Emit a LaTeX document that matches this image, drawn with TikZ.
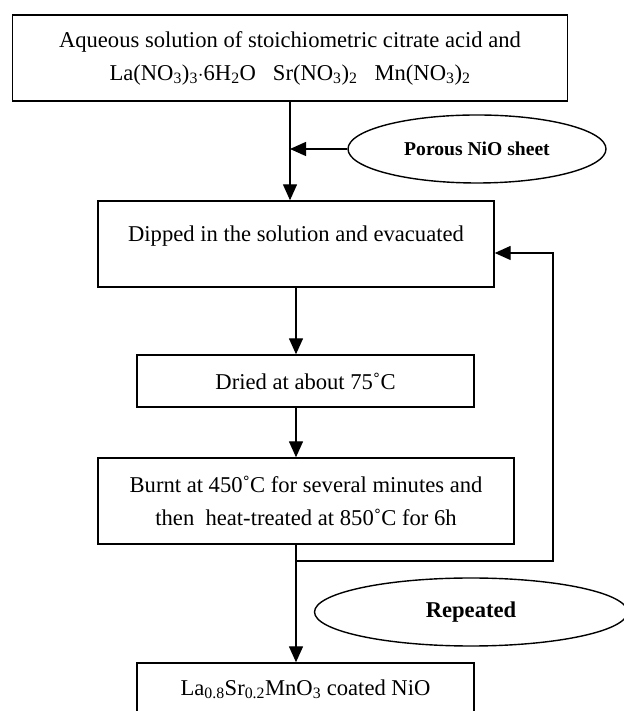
\documentclass[tikz,border=0pt]{standalone}
\usepackage{fontspec}
\setmainfont{Liberation Serif}
\usetikzlibrary{shapes.geometric, arrows.meta, positioning, calc}

\tikzset{
    stepbox/.style={draw, line width=1.4pt, inner sep=0pt, align=center,
        font=\fontsize{22.6}{33}\selectfont},
    oval/.style={draw, ellipse, line width=1.4pt, inner sep=0pt,
        font=\bfseries},
    flow/.style={line width=1.4pt, -{Triangle[length=16pt,width=14pt]}},
}

\begin{document}
\begin{tikzpicture}[x=1pt, y=1pt]

    \useasboundingbox (0,0) rectangle (623,711);

    \node[stepbox, minimum width=555pt, minimum height=86pt] (sol) at (290,653)
        {Aqueous solution of stoichiometric citrate acid and\\
         La(NO\textsubscript{3})\textsubscript{3}$\cdot$6H\textsubscript{2}O\ \ \ Sr(NO\textsubscript{3})\textsubscript{2}\ \ \ Mn(NO\textsubscript{3})\textsubscript{2}};
    \node[stepbox, align=none, minimum width=396pt, minimum height=86pt,
          text height=16pt, text depth=20pt] (dip) at (296,467)
        {Dipped in the solution and evacuated};
    \node[stepbox, minimum width=337pt, minimum height=52pt] (dry) at (305.5,330)
        {Dried at about 75˚C};
    \node[stepbox, minimum width=416pt, minimum height=86pt] (burn) at (306,210)
        {Burnt at 450˚C for several minutes and\\
         then\ \ heat-treated at 850˚C for 6h};
    \node[stepbox, minimum width=337pt, minimum height=52pt] (lsm) at (305.5,22)
        {La\textsubscript{0.8}Sr\textsubscript{0.2}MnO\textsubscript{3} coated NiO};

    \node[oval, minimum width=258pt, minimum height=68pt,
          font=\fontsize{19.6}{24}\bfseries] (nio) at (477,562) {Porous NiO sheet};
    \node[oval, minimum width=313pt, minimum height=68pt,
          font=\fontsize{22.6}{28}\bfseries] (rep) at (471,99) {Repeated};

    % main line
    \draw[flow] (sol.south) -- (sol.south |- dip.north);
    \draw[flow] (nio.west) -- (nio.west -| sol.south);
    \draw[flow] (dip.south) -- (dip.south |- dry.north);
    \draw[flow] (dip.south |- dry.south) -- (dip.south |- burn.north);
    \draw[flow] (dip.south |- burn.south) -- (dip.south |- lsm.north);

    % loop back
    \coordinate (turn) at (553,150);
    \coordinate (back) at ($(dip.east)+(0,-9)$);
    \draw[flow] (dip.south |- turn) -- (turn) -- (turn |- back) -- (back);

\end{tikzpicture}
\end{document}
